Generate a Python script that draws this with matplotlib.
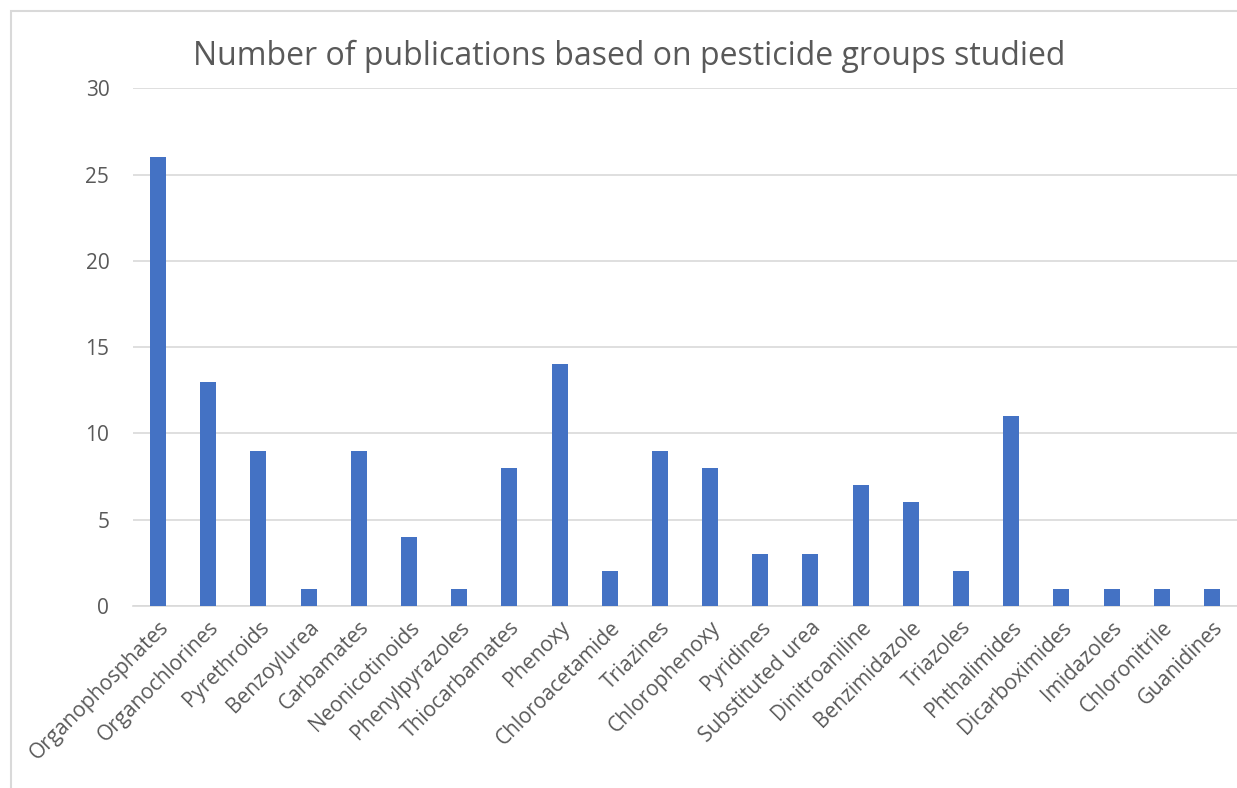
import matplotlib.pyplot as plt
from matplotlib.patches import Rectangle

# --- data ----------------------------------------------------------------------
groups = [
    "Organophosphates", "Organochlorines", "Pyrethroids", "Benzoylurea",
    "Carbamates", "Neonicotinoids", "Phenylpyrazoles", "Thiocarbamates",
    "Phenoxy", "Chloroacetamide", "Triazines", "Chlorophenoxy", "Pyridines",
    "Substituted urea", "Dinitroaniline", "Benzimidazole", "Triazoles",
    "Phthalimides", "Dicarboximides", "Imidazoles", "Chloronitrile", "Guanidines",
]
publications = [26, 13, 9, 1, 9, 4, 1, 8, 14, 2, 9, 8, 3, 3, 7, 6, 2, 11, 1, 1, 1, 1]
yticks = [0, 5, 10, 15, 20, 25, 30]

# --- style ---------------------------------------------------------------------
plt.rcParams['font.family'] = ['Open Sans', 'DejaVu Sans']
bar_color = "#4472C4"
grid_color = "#D9D9D9"
text_color = "#595959"

fig = plt.figure(figsize=(12.37, 7.88), dpi=100)
ax = fig.add_axes([0.1075, 0.231, 0.8925, 0.657])

x = list(range(len(groups)))
ax.bar(x, publications, width=0.32, color=bar_color, zorder=3)

ax.set_xlim(-0.5, len(groups) - 0.5)
ax.set_ylim(0, 30)
ax.set_yticks(yticks)
ax.set_yticklabels([str(t) for t in yticks], fontsize=15, color=text_color)
ax.set_xticks(x)
ax.set_xticklabels(groups, rotation=45, ha="right", rotation_mode="anchor",
                   fontsize=15, color=text_color)
ax.tick_params(axis="both", length=0)
ax.tick_params(axis="y", pad=17)
ax.tick_params(axis="x", pad=8)

ax.grid(axis="y", color=grid_color, linewidth=1.2, zorder=0)
for side in ["top", "right", "left"]:
    ax.spines[side].set_visible(False)
ax.spines["bottom"].set_color(grid_color)
ax.spines["bottom"].set_linewidth(1.2)

fig.text(629 / 1237, 1 - 56 / 788,
         "Number of publications based on pesticide groups studied",
         ha="center", va="center", fontsize=23, color=text_color)

# light chart-area border
fig.patches.append(Rectangle((11 / 1237, -0.1), 1.2, 1.1 - 11 / 788,
                             transform=fig.transFigure, fill=False,
                             edgecolor=grid_color, linewidth=1.5))

fig.savefig("out.png", dpi=100)
